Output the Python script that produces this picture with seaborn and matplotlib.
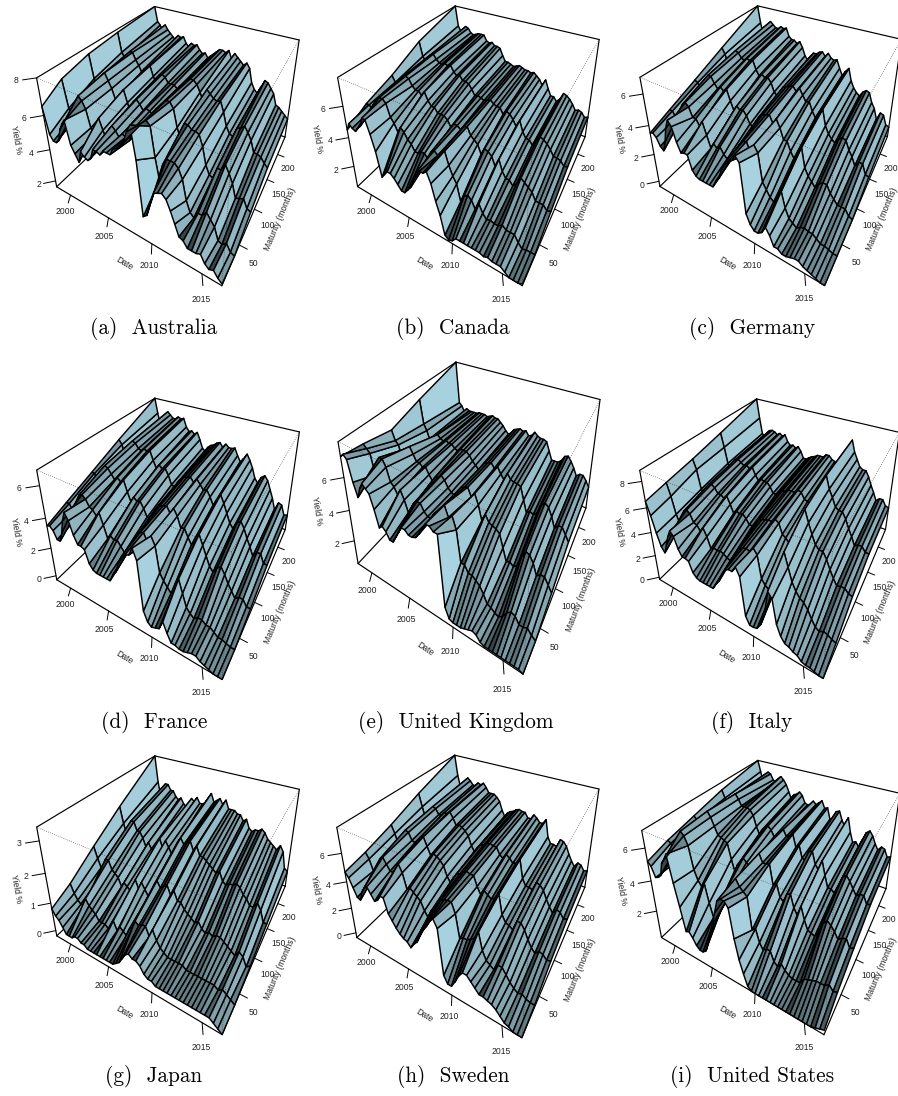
import numpy as np, matplotlib
matplotlib.use('Agg')
import matplotlib.pyplot as plt
import seaborn as sns
from mpl_toolkits.mplot3d import proj3d

sns.set_theme(style='white')
plt.rcParams['font.family'] = ['Liberation Sans', 'DejaVu Sans']

DATES = [1998.0,1998.4,1998.8,1999.2,1999.6,2000.0,2000.4,2000.8, 2001.2,2001.6,2002.0,2002.4,2002.8,2003.2,2003.6,2004.0,
         2004.4,2004.8,2005.2,2005.6,2006.0,2006.4,2006.8,2007.2, 2007.6,2008.0,2008.4,2008.8,2009.2,2009.6,2010.0,2010.4,
         2010.8,2011.2,2011.6,2012.0,2012.4,2012.8,2013.2,2013.6, 2014.0,2014.4,2014.8,2015.2,2015.6,2016.0,2016.4,2016.8]
MATURITIES = [3, 36, 84, 144, 240]
DATE_TICKS = [2000, 2005, 2010, 2015]
MAT_TICKS = [50, 100, 150, 200]

# yields in tenths of a percent: rows are maturities, columns are dates
AU = [[65,50,47,47,49,56,60,63, 50,46,42,49,47,46,48,54, 54,53,56,56,56,60,61,63, 66,72,76,60,30,32,40,47, 48,49,47,42,36,30,29,26, 26,26,27,23,21,22,19,17],
      [72,56,51,52,60,66,64,60, 50,47,52,58,52,46,54,57, 55,52,55,54,53,58,60,63, 66,68,66,50,38,48,52,52, 52,50,45,34,28,26,30,30, 33,30,27,20,19,21,17,16],
      [76,62,58,58,66,68,64,60, 54,56,59,62,55,49,57,59, 57,54,56,55,54,58,59,62, 65,65,62,52,46,56,56,54, 54,53,47,37,32,31,38,38, 42,38,33,25,26,27,22,21],
      [78,66,63,61,68,68,64,61, 57,60,61,63,57,53,59,60, 59,56,56,56,54,57,58,61, 63,63,61,57,52,60,58,56, 55,56,50,42,38,37,43,44, 46,43,39,32,32,31,28,26],
      [80,70,68,64,69,66,64,62, 60,64,63,64,60,58,61,60, 61,58,56,57,54,56,58,60, 62,62,61,63,58,62,60,58, 56,58,55,46,42,40,45,50, 49,46,43,36,35,33,31,29]]
CA = [[45,50,48,47,50,52,58,58, 50,40,24,27,30,30,28,25, 22,22,25,28,34,40,42,42, 44,38,28,20,8,6,7,10, 10,10,10,10,10,10,9,10, 9,9,9,7,5,5,5,6],
      [52,52,50,52,58,60,60,58, 50,47,42,46,44,40,38,34, 34,36,36,33,39,41,39,42, 44,36,30,26,15,20,22,20, 15,20,15,12,13,12,12,14, 12,12,12,8,5,6,6,6],
      [58,54,52,55,60,61,60,56, 54,54,52,55,50,47,47,44, 44,44,42,38,41,41,39,42, 43,38,36,34,28,33,32,30, 24,30,23,19,19,16,19,24, 22,20,18,13,13,13,10,11],
      [68,58,55,58,61,62,59,57, 57,58,57,58,54,52,53,50, 50,49,46,42,43,42,41,42, 43,41,40,40,36,39,38,35, 31,36,29,25,25,22,26,30, 29,27,24,20,20,19,16,17],
      [77,62,58,60,63,62,59,58, 59,60,60,60,56,55,56,54, 54,53,48,44,44,43,42,43, 44,43,42,42,41,42,40,38, 34,39,33,28,28,25,28,33, 32,30,27,23,24,23,20,21]]
DE = [[35,36,34,29,27,34,44,50, 47,38,32,33,33,24,21,20, 20,20,20,20,25,28,35,40, 42,44,48,45,14,8,5,5, 7,12,8,2,2,0,0,1, 2,2,0,-1,-2,-3,-4,-4],
      [40,40,36,32,38,48,50,48, 42,42,38,42,34,26,30,28, 30,26,24,24,29,34,38,41, 42,36,42,38,20,16,12,10, 14,20,10,4,2,0,2,3, 2,2,0,-2,-2,-3,-4,-4],
      [47,46,40,38,47,54,54,50, 47,49,47,49,42,36,40,38, 39,36,31,30,35,39,41,42, 43,38,42,37,30,30,24,20, 24,30,17,12,9,6,10,12, 12,7,4,1,1,1,-3,-4],
      [56,52,44,43,51,57,56,53, 52,54,53,54,48,44,46,44, 45,42,36,34,38,42,43,44, 45,42,45,41,37,38,32,28, 32,36,25,20,17,15,19,21, 20,14,10,4,8,8,1,0],
      [70,57,48,47,55,60,58,56, 56,58,57,58,52,50,50,48, 50,46,40,37,41,44,44,46, 47,44,47,44,43,44,38,33, 37,40,31,26,23,21,25,27, 26,19,15,7,13,12,5,4]]
FR = [[35,36,34,29,29,35,44,50, 46,38,33,33,32,24,21,20, 20,20,20,20,25,28,35,40, 42,43,48,42,12,6,4,5, 6,12,6,1,1,0,0,1, 2,2,0,-1,-2,-3,-3,-3],
      [40,40,36,32,39,49,50,48, 44,43,40,43,36,28,31,29, 30,27,24,25,30,35,39,42, 43,38,43,38,22,18,15,12, 16,24,16,8,5,3,5,5, 3,3,1,-1,-1,-2,-3,-3],
      [47,47,41,38,48,55,54,51, 48,50,48,50,43,37,41,39, 40,36,31,31,36,40,42,43, 44,40,44,40,33,34,29,25, 28,34,28,22,16,13,17,19, 15,10,6,2,4,4,0,0],
      [56,53,45,43,52,58,57,54, 53,55,54,55,49,44,47,45, 46,42,36,35,39,42,44,45, 46,43,46,43,40,41,37,32, 36,41,36,30,24,21,26,28, 24,18,13,7,11,11,5,5],
      [69,58,49,47,56,61,59,57, 57,59,58,59,53,50,51,49, 51,46,40,38,42,44,45,47, 48,45,48,46,46,47,42,38, 41,45,41,36,29,26,31,33, 30,24,18,10,16,15,8,9]]
UK = [[72,74,72,60,52,58,62,60, 58,50,40,42,40,36,36,40, 44,48,48,46,46,47,50,54, 58,58,56,56,14,8,7,7, 7,8,9,10,9,6,5,5, 5,5,5,5,5,5,5,4],
      [70,68,66,54,60,66,66,62, 54,52,48,52,47,40,44,48, 50,50,46,44,44,48,50,53, 56,50,52,45,26,26,22,22, 20,18,14,9,8,6,5,7, 11,13,12,8,8,9,6,4],
      [66,60,58,50,54,58,60,56, 52,52,50,51,47,44,47,48, 50,48,44,42,41,44,48,49, 50,45,48,42,33,38,34,33, 32,30,22,14,15,13,15,22, 27,26,22,15,17,17,13,9],
      [72,56,52,46,49,50,52,50, 49,50,49,49,47,46,48,48, 48,46,43,41,39,41,45,46, 47,44,46,42,39,44,41,40, 40,39,31,23,25,24,26,32, 35,33,28,21,24,24,20,16],
      [80,50,48,44,47,46,46,46, 46,47,47,47,46,47,48,47, 47,45,43,40,38,40,43,44, 45,44,45,42,43,46,44,43, 43,42,36,30,30,30,32,36, 37,34,30,25,27,27,24,20]]
IT = [[65,55,42,32,28,36,44,50, 47,38,33,33,32,24,21,20, 20,20,20,20,25,29,36,41, 43,43,48,42,12,6,6,7, 12,22,42,38,20,12,8,7, 5,4,1,0,0,-1,-2,-2],
      [68,58,44,36,40,50,52,50, 44,43,39,43,37,28,30,29, 30,29,27,26,31,36,40,42, 43,42,46,42,24,20,18,18, 24,40,54,44,34,28,24,22, 18,12,7,5,7,6,4,3],
      [72,64,48,44,49,55,56,54, 50,50,48,51,45,38,41,40, 41,38,34,34,37,41,43,44, 45,45,48,46,38,36,33,34, 38,52,65,56,48,41,38,38, 33,26,20,15,16,16,13,12],
      [78,66,52,48,54,58,59,57, 55,56,54,56,50,46,48,47, 47,44,39,39,41,44,45,47, 47,47,50,49,44,43,41,42, 46,58,70,60,54,47,45,45, 40,33,27,20,22,22,18,18],
      [88,70,55,52,57,60,61,60, 58,60,58,60,54,51,52,50, 52,48,42,42,44,46,47,49, 49,49,52,52,49,48,46,46, 50,60,72,62,56,50,48,48, 43,36,30,23,26,26,21,20]]
JP = [[8,6,5,3,1,1,1,2, 2,1,1,0,0,0,0,0, 0,0,0,0,1,2,4,6, 7,6,6,5,3,2,2,1, 1,1,1,1,1,1,1,1, 1,1,1,1,1,0,-1,-2],
      [11,8,6,5,5,8,6,5, 4,2,2,2,1,1,5,2, 4,3,2,5,6,9,8,9, 9,6,9,6,4,3,2,2, 2,2,2,1,1,1,1,1, 1,1,1,0,1,0,-1,-2],
      [17,13,10,9,14,14,11,10, 9,6,8,7,6,3,11,8, 11,9,7,9,12,14,12,13, 14,11,13,10,10,8,7,6, 5,6,4,3,4,3,4,4, 3,2,1,0,2,1,-2,-1],
      [24,18,14,15,20,20,17,17, 15,12,14,12,11,7,17,14, 17,15,13,15,18,20,18,19, 20,17,19,16,16,15,14,13, 12,13,10,9,10,10,11,10, 8,7,5,5,7,5,1,1],
      [34,24,18,22,24,24,22,22, 20,19,20,18,17,14,21,20, 22,20,20,21,23,25,22,23, 24,22,24,21,21,21,20,20, 18,19,16,15,16,16,17,16, 14,13,12,11,13,11,5,4]]
SE = [[47,44,38,32,31,38,42,44, 40,36,38,42,42,32,28,24, 21,19,18,15,19,22,28,33, 37,42,45,40,8,3,3,8, 14,18,18,15,12,9,9,8, 7,5,2,-1,-2,-4,-4,-4],
      [50,46,38,34,42,50,52,48, 44,44,47,52,47,36,38,36, 34,32,26,22,28,32,36,39, 41,42,42,35,18,20,20,22, 24,30,18,12,10,8,13,13, 9,5,2,0,1,-1,-2,-2],
      [56,50,42,40,50,56,55,50, 49,52,53,56,50,44,46,45, 43,40,33,29,34,38,39,41, 43,42,42,35,30,34,32,30, 32,36,22,17,16,14,22,22, 18,12,7,4,7,6,3,4],
      [65,55,46,45,54,58,57,53, 53,56,56,58,54,49,50,49, 47,44,37,33,37,40,41,43, 44,43,43,38,36,40,38,35, 36,40,26,21,21,20,27,26, 23,17,12,8,12,11,7,8],
      [77,60,50,50,57,60,58,55, 55,58,57,59,56,52,52,52, 50,47,40,35,39,41,42,44, 45,44,44,40,40,44,42,39, 39,43,29,24,24,23,30,29, 26,20,15,11,15,14,10,11]]
US = [[52,50,44,45,47,55,58,62, 46,32,17,18,15,11,9,9, 11,17,25,32,40,48,50,50, 47,30,18,10,3,1,1,1, 1,1,1,1,1,1,1,1, 1,1,1,1,1,2,3,4],
      [56,55,44,50,58,65,63,58, 44,38,35,38,26,17,22,25, 32,32,35,38,44,50,46,44, 42,22,24,16,12,14,14,8, 6,9,6,4,3,3,3,7, 8,9,10,10,10,12,9,10],
      [60,58,48,54,62,66,63,58, 53,52,51,50,40,32,38,40, 44,42,40,42,45,51,46,46, 47,34,36,28,26,32,33,25, 21,28,20,14,13,12,16,23, 26,24,21,17,19,20,15,16],
      [65,60,52,56,63,65,62,58, 58,58,57,54,47,42,46,48, 50,48,44,44,46,51,47,48, 50,42,44,36,35,42,43,35, 32,39,30,22,22,20,26,33, 35,32,28,24,26,26,21,22],
      [70,62,54,58,63,62,58,57, 60,62,60,57,52,47,51,52, 54,52,47,46,47,50,48,50, 52,47,48,40,41,47,48,42, 38,45,35,28,29,26,32,38, 40,37,32,28,31,30,25,26]]

PANELS = [
    ('(a)  Australia', AU, [2,4,6,8], [(37,79),(155,6),(299,40),(56,186),(222,286),(285,137)], 154, 328),
    ('(b)  Canada', CA, [2,4,6], [(338,77),(455,6),(598,40),(357,186),(523,286),(586,137)], 453, 328),
    ('(c)  Germany', DE, [0,2,4,6], [(640,78),(758,7),(898,40),(659,187),(826,287),(890,132)], 752, 328),
    ('(d)  France', FR, [0,2,4,6], [(37,469),(155,399),(298,432),(56,579),(223,680),(286,530)], 154, 722),
    ('(e)  United Kingdom', UK, [2,4,6], [(338,441),(456,363),(599,400),(358,563),(523,675),(587,507)], 456, 722),
    ('(f)  Italy', IT, [0,2,4,6,8], [(640,470),(756,400),(898,433),(659,578),(825,680),(886,528)], 752, 722),
    ('(g)  Japan', JP, [0,1,2,3], [(37,827),(155,756),(298,790),(56,936),(223,1035),(286,885)], 154, 1077),
    ('(h)  Sweden', SE, [0,2,4,6], [(337,827),(455,756),(597,790),(356,937),(523,1039),(586,885)], 453, 1077),
    ('(i)  United States', US, [2,4,6], [(642,830),(757,761),(898,794),(661,936),(826,1036),(887,888)], 752, 1077),
]

W, H = 898, 1096
fig = plt.figure(figsize=(W/100, H/100), dpi=100, facecolor='white')
LABEL = '#222222'
FS = 6.2
FACE = np.array(matplotlib.colors.to_rgb('#ADD8E6'))

def face_colours(Z):
    # the finer the mesh lines bunch on screen, the darker the cell reads
    dz = (np.diff(Z[:-1], axis=1) + np.diff(Z[1:], axis=1)) / 2
    w = 4 - 6.5 * dz * 6.4 / (Z.max() - Z.min())
    f = np.clip(0.42 * (4 / np.maximum(w, 0.5)) ** 1.8, 0, 0.68)
    fc = np.ones(Z.shape + (4,))
    fc[:, :, :3] = FACE
    fc[:-1, :-1, :3] = FACE * (1 - f[:, :, None])
    return fc

def panel(title, rows, zticks, target, cx, cy):
    ax = fig.add_axes([0, 0, 1, 1], projection='3d', computed_zorder=False)
    ax.set_axis_off()
    ax.patch.set_visible(False)
    d = np.array(DATES); m = np.array(MATURITIES, float); Z = np.array(rows, float) / 10
    x0, x1, y0, y1, z0, z1 = d[0], d[-1], m[0], m[-1], Z.min(), Z.max()
    ax.set_xlim(x0, x1); ax.set_ylim(y0, y1); ax.set_zlim(z0, z1)
    ax.view_init(elev=30.4, azim=-60.07)
    ax.set_proj_type('persp', focal_length=0.239)
    ax.set_box_aspect((0.979, 0.997, 0.506))
    M = ax.get_proj()
    # fit the panel's axes rectangle to the reference box corners
    cs = np.array([[x0,y0,z1],[x0,y1,z1],[x1,y1,z1],[x0,y0,z0],[x1,y0,z0],[x1,y1,z0]])
    u, v, _ = proj3d.proj_transform(cs[:,0], cs[:,1], cs[:,2], M)
    t = np.array(target, float)
    sx, tx = np.polyfit(u, t[:,0], 1); sy, ty = np.polyfit(v, t[:,1], 1)
    vx, vy = ax.viewLim.intervalx, ax.viewLim.intervaly
    left = tx + sx*vx[0]; right = tx + sx*vx[1]
    bottom = H - (ty + sy*vy[0]); top = H - (ty + sy*vy[1])
    ax.set_position([left/W, bottom/H, (right-left)/W, (top-bottom)/H])
    ax.apply_aspect = lambda position=None: None

    def px(p):
        a, b, _ = proj3d.proj_transform(p[0], p[1], p[2], M)
        return tx + sx*a, ty + sy*b
    def label(p, s, rot=0, off=(0, 0)):
        X, Y = px(p)
        fig.text((X+off[0])/W, 1-(Y+off[1])/H, s, fontsize=FS, color=LABEL, ha='center', va='center', rotation=rot)
    def angle(p, q):
        a, b = px(p), px(q)
        return np.degrees(np.arctan2(-(b[1]-a[1]), b[0]-a[0]))
    def seg(p, q, **kw):
        ax.plot([p[0],q[0]], [p[1],q[1]], [p[2],q[2]], clip_on=False, **kw)

    A,B,C,D = (x0,y0,z1),(x0,y1,z1),(x1,y1,z1),(x1,y0,z1)
    a,b,c,e = (x0,y0,z0),(x0,y1,z0),(x1,y1,z0),(x1,y0,z0)
    solid = dict(color='black', lw=0.85, zorder=1, solid_capstyle='round')
    for p,q in [(A,a),(C,c),(A,B),(B,C),(a,e),(e,c),(a,b),(b,c),(B,b)]:
        seg(p, q, **solid)

    X, Y = np.meshgrid(d, m)
    s = ax.plot_surface(X, Y, Z, rstride=1, cstride=1, facecolors=face_colours(Z), edgecolor='black',
                        linewidth=1.05, shade=False, antialiased=True, zorder=2)
    s.set_edgecolor('black')
    s.set_clip_on(False)

    dot = dict(color='#333333', lw=0.5, ls=(0,(1,2)), zorder=3)
    for p,q in [(A,D),(C,D),(D,e)]:
        seg(p, q, **dot)

    dx, dy, dz = x1-x0, y1-y0, z1-z0
    tick = dict(color='black', lw=0.7, zorder=1)
    for tk in DATE_TICKS:
        seg((tk,y0,z0), (tk+0.025*dx,y0-0.04*dy,z0), **tick)
        label((tk, y0-0.115*dy, z0), str(tk), off=(12, -1))
    for tk in MAT_TICKS:
        seg((x1,tk,z0), (x1+0.04*dx,tk,z0), **tick)
        label((x1+0.095*dx, tk, z0), str(tk), off=(-5, 8))
    for tk in zticks:
        seg((x0,y0,tk), (x0-0.044*dx,y0-0.044*dy,tk), **tick)
        label((x0-0.08*dx, y0-0.08*dy, tk), str(tk), off=(5, -1))
    label((x0+0.58*dx, y0-0.135*dy, z0), 'Date', angle(a, e))
    label((x1+0.13*dx, y0+0.42*dy, z0), 'Maturity (months)', angle(e, c))
    label((x0-0.105*dx, y0-0.105*dy, z0+0.525*dz), 'Yield %', angle(A, a))
    fig.text(cx/W, 1-cy/H, title, family='cmr10', fontsize=15.3, ha='center', va='center', color='black')

for pn in PANELS:
    panel(*pn)

fig.savefig('out.png', dpi=100, facecolor='white')
